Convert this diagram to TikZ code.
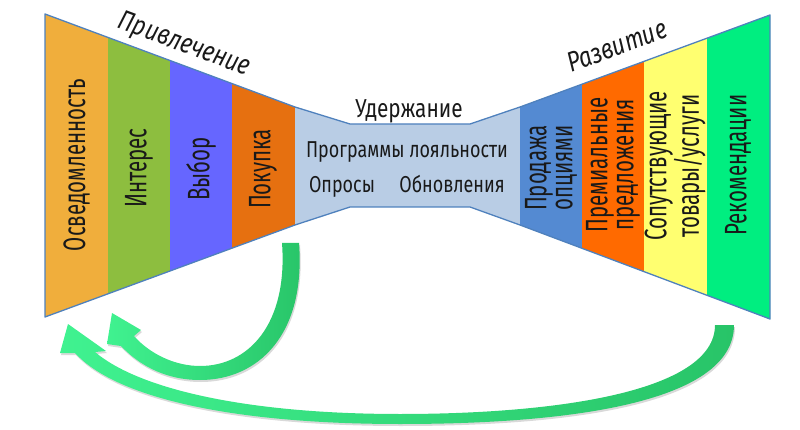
\documentclass[tikz,border=0pt]{standalone}
\usepackage{fontspec}
\setmainfont{Fira Sans}
\newfontfamily\colfont[FakeStretch=0.66]{Fira Sans}
\newfontfamily\midfont[FakeStretch=0.78]{Fira Sans}
\newfontfamily\hdfont[FakeStretch=0.8]{Fira Sans}
\usetikzlibrary{shadows}
\definecolor{cAw}{RGB}{240,174,60}
\definecolor{cIn}{RGB}{141,190,63}
\definecolor{cVy}{RGB}{102,102,255}
\definecolor{cPo}{RGB}{230,112,16}
\definecolor{cCe}{RGB}{185,205,229}
\definecolor{cPr}{RGB}{84,138,210}
\definecolor{cPm}{RGB}{255,106,0}
\definecolor{cSo}{RGB}{255,255,112}
\definecolor{cRe}{RGB}{0,238,128}
\definecolor{edgeblue}{RGB}{79,129,189}
\definecolor{arDark}{RGB}{40,196,104}
\definecolor{arLight}{RGB}{64,242,144}
\definecolor{txt}{RGB}{25,25,25}
\tikzset{
  collabel/.style={rotate=90, font=\colfont\fontsize{31}{26}\selectfont, align=center, text=txt, inner sep=0pt},
  ctext/.style={font=\midfont\fontsize{23}{24}\selectfont, text=txt, inner sep=0pt},
  hd/.style={font=\hdfont\fontsize{28}{30}\selectfont\itshape, text=txt, inner sep=0pt},
  hdup/.style={font=\hdfont\fontsize{26}{28}\selectfont, text=txt, inner sep=0pt},
  arrowfill/.style={left color=arLight, right color=arDark,
    drop shadow={opacity=0.3, shadow xshift=1pt, shadow yshift=-2pt}},
  outline/.style={draw=edgeblue, line width=1.3pt, line join=round}
}
\begin{document}
\begin{tikzpicture}[x=1pt,y=-1pt]
\useasboundingbox (0,0) rectangle (800,430);
\coordinate (L1) at (45,14);
\coordinate (L2) at (295,107);
\coordinate (C1) at (350,124);
\coordinate (C2) at (470,124);
\coordinate (R1) at (520,107);
\coordinate (R2) at (770,15);
\coordinate (R3) at (770,319);
\coordinate (R4) at (520,225);
\coordinate (C3) at (470,207);
\coordinate (C4) at (350,207);
\coordinate (L3) at (295,225);
\coordinate (L4) at (45,317);
% funnel body
\begin{scope}
\clip (L1) -- (L2) -- (C1) -- (C2) -- (R1) -- (R2) -- (R3) -- (R4) -- (C3) -- (C4) -- (L3) -- (L4) -- cycle;
\fill[cAw] (40,0) rectangle (108,430);
\fill[cIn] (108,0) rectangle (170,430);
\fill[cVy] (170,0) rectangle (232,430);
\fill[cPo] (232,0) rectangle (295,430);
\fill[cCe] (295,0) rectangle (520,430);
\fill[cPr] (520,0) rectangle (582,430);
\fill[cPm] (582,0) rectangle (644,430);
\fill[cSo] (644,0) rectangle (707,430);
\fill[cRe] (707,0) rectangle (775,430);
\end{scope}
\draw[outline] (L1) -- (L2) -- (C1) -- (C2) -- (R1) -- (R2) -- (R3) -- (R4) -- (C3) -- (C4) -- (L3) -- (L4) -- cycle;
% column labels
\node[collabel] (osv) at (76.5,165) {Осведомленность};
\node[collabel] (int) at (139,168) {Интерес};
\node[collabel] (vyb) at (201,169) {Выбор};
\node[collabel] (pok) at (263,169) {Покупка};
\node[collabel] (pro) at (551,168) {Продажа\\опциями};
\node[collabel] (pre) at (613,165) {Премиальные\\предложения};
\node[collabel] (sop) at (675,166) {Сопутствующие\\товары/услуги};
\node[collabel] (rek) at (738,165) {Рекомендации};
% centre texts
\node[ctext, anchor=base] (prog) at (407,158) {Программы лояльности};
\node[ctext, anchor=base] (opr) at (342,193) {Опросы};
\node[ctext, anchor=base] (obn) at (452,193) {Обновления};
% headings
\path (L1) -- (L2) node[hd, pos=0.53, sloped, above=6pt] (privl) {Привлечение};
\path (R1) -- (R2) node[hd, pos=0.42, sloped, above=14pt] (razv) {Развитие};
\node[hdup, anchor=base] (uder) at (409,118) {Удержание};
% return arrows
\coordinate (a1tip) at (112,313);
\coordinate (a2tip) at (68,324);
\path[arrowfill] (282,243) -- (299,243) .. controls (306,335) and (258,380) .. (200,380)
  .. controls (162,380) and (136,362) .. (121,346) -- (107,344) -- (a1tip) -- (141,330) -- (134,336)
  .. controls (150,354) and (175,366) .. (200,366) .. controls (248,366) and (288,325) .. (282,243) -- cycle;
\path[arrowfill] (715,325) -- (734,325) .. controls (734,405) and (560,424) .. (400,424)
  .. controls (240,424) and (118,400) .. (75,353) -- (60,353) -- (a2tip) -- (106,351) -- (95,352)
  .. controls (140,390) and (250,414) .. (400,414) .. controls (555,414) and (715,392) .. (715,325) -- cycle;
\end{tikzpicture}
\end{document}
